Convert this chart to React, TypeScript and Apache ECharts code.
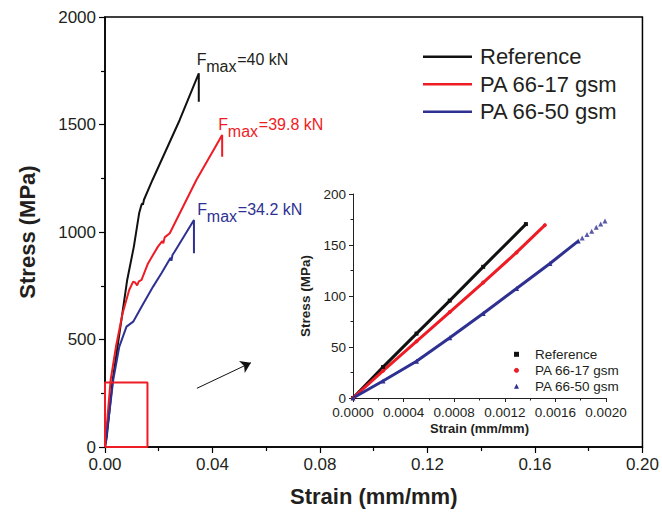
import React, { useEffect, useRef } from "react";
import * as echarts from "echarts";

const FONT = "'Liberation Sans', Arial, Helvetica, sans-serif";

// Main chart series: [strain, stress]
const referenceMain = [
  [0, 0], [0.0006, 40], [0.00285, 312], [0.00556, 544], [0.00826, 777], [0.01074, 932],
  [0.0127, 1087], [0.0136, 1128], [0.01396, 1133], [0.0141, 1126], [0.0145, 1150],
  [0.01767, 1242], [0.0216, 1350], [0.0278, 1521], [0.0349, 1738], [0.0349, 1606],
];
const pa17Main = [
  [0, 0], [0.0021, 312], [0.00407, 466], [0.00656, 622], [0.009, 730], [0.01048, 769],
  [0.0112, 765], [0.01196, 752], [0.0126, 770], [0.0136, 777], [0.016, 854], [0.0197, 932],
  [0.0213, 958], [0.0217, 948], [0.0222, 975], [0.0241, 994], [0.034, 1242], [0.0436, 1451],
  [0.0436, 1350],
];
const pa50Main = [
  [0, 0], [0.0016, 157], [0.00307, 312], [0.0053, 466], [0.008, 560], [0.0105, 583],
  [0.0136, 652], [0.0179, 746], [0.021, 808], [0.0244, 880], [0.0247, 866], [0.0251, 893],
  [0.0259, 908], [0.0331, 1056], [0.0331, 901],
];
// Zoom box (strain, stress corners) and arrow (from, to)
const zoomBox = [[0, 0], [0.0158, 0], [0.0158, 300], [0, 300], [0, 0]];
const arrowFrom = [0.0342, 273];
const arrowTo = [0.0543, 392];

// Inset series
const referenceInset = [
  [0, 0], [0.000237, 30.3], [0.000502, 63.1], [0.000765, 95.5], [0.001029, 128.6], [0.001367, 170.5],
];
const pa17Inset = [
  [0, 0], [0.000237, 26.7], [0.000502, 55.5], [0.000765, 84.3], [0.001029, 113.2], [0.001293, 142.7],
  [0.001517, 169.5],
];
const pa50InsetDense = [
  [0, 0], [0.000237, 16.7], [0.000502, 36], [0.000765, 59], [0.001029, 82.8], [0.001293, 107.3],
  [0.001557, 131.9], [0.00178, 153.8],
];
const pa50InsetSparse = [
  [0.001812, 156.8], [0.00185, 160.4], [0.001887, 163.6], [0.001923, 167.3], [0.001958, 170.5],
  [0.001992, 173.5],
];

const names = ["Reference", "PA 66-17 gsm", "PA 66-50 gsm"];
const colors = ["#111111", "#ee1c25", "#2e3192"];
const mainXTicks = { min: 0, max: 0.2, interval: 0.04 };
const mainYTicks = { min: 0, max: 2000, interval: 500 };
const insetXTicks = { min: 0, max: 0.002, interval: 0.0004 };
const insetYTicks = { min: 0, max: 200, interval: 50 };

const fmaxLabels = [
  { text: "=40 kN", color: "#231f20", fx: 196.7, fy: 59 },
  { text: "=39.8 kN", color: "#ee1c25", fx: 218.3, fy: 124 },
  { text: "=34.2 kN", color: "#2e3192", fx: 197.3, fy: 209 },
];

const SQUARE = "path://M0,0L10,0L10,10L0,10Z";

export default function App() {
  const ref = useRef<HTMLDivElement>(null);
  useEffect(() => {
    if (!ref.current) return;
    const chart = echarts.init(ref.current, null, { renderer: "svg" });

    const graphics: any[] = [];
    fmaxLabels.forEach((l) => {
      graphics.push({
        type: "text", left: l.fx, top: l.fy - 8,
        style: { text: "F", fill: l.color, font: `16px ${FONT}` },
      });
      graphics.push({
        type: "text", left: l.fx + 9.5, top: l.fy - 1,
        style: { text: "max", fill: l.color, font: `16px ${FONT}` },
      });
      graphics.push({
        type: "text", left: l.fx + 40.5, top: l.fy - 8,
        style: { text: l.text, fill: l.color, font: `16px ${FONT}` },
      });
    });

    const mainLine = (i: number, data: number[][]) => ({
      name: names[i], type: "line", xAxisIndex: 0, yAxisIndex: 0, data,
      showSymbol: false, symbol: "none", z: 3,
      lineStyle: { color: colors[i], width: 2 }, itemStyle: { color: colors[i] },
    });
    const insetLine = (i: number, data: number[][], symbol: string, size: number) => ({
      name: names[i], type: "line", xAxisIndex: 1, yAxisIndex: 1, data,
      showSymbol: true, symbol, symbolSize: size, z: 4,
      lineStyle: { color: colors[i], width: 3 }, itemStyle: { color: colors[i] },
    });

    chart.setOption({
      animation: false,
      textStyle: { fontFamily: FONT },
      grid: [
        { left: 105, top: 17, width: 540, height: 430, show: true, borderColor: "#000", borderWidth: 1.5, backgroundColor: "transparent" },
        { left: 353, top: 194, width: 253, height: 204 },
      ],
      xAxis: [
        {
          gridIndex: 0, type: "value", ...mainXTicks,
          name: "Strain (mm/mm)", nameLocation: "middle", nameGap: 38,
          nameTextStyle: { fontSize: 22, fontWeight: "bold", color: "#231f20", fontFamily: FONT },
          axisLine: { show: true, lineStyle: { color: "#000", width: 1.5 } },
          axisTick: { show: true, inside: false, length: 6, lineStyle: { color: "#000", width: 1.2 } },
          minorTick: { show: true, splitNumber: 2, length: 4, lineStyle: { color: "#000", width: 1.2 } },
          splitLine: { show: false },
          axisLabel: { fontSize: 17, color: "#231f20", margin: 9, formatter: (v: number) => v.toFixed(2), fontFamily: FONT },
        },
        {
          gridIndex: 1, type: "value", ...insetXTicks,
          name: "Strain (mm/mm)", nameLocation: "middle", nameGap: 24,
          nameTextStyle: { fontSize: 13, fontWeight: "bold", color: "#231f20", fontFamily: FONT },
          axisLine: { show: true, lineStyle: { color: "#222", width: 1 } },
          axisTick: { show: true, inside: false, length: 4, lineStyle: { color: "#222" } },
          minorTick: { show: true, splitNumber: 2, length: 2.5, lineStyle: { color: "#222" } },
          splitLine: { show: false },
          axisLabel: { fontSize: 13.5, color: "#231f20", margin: 7, formatter: (v: number) => v.toFixed(4), fontFamily: FONT },
        },
      ],
      yAxis: [
        {
          gridIndex: 0, type: "value", ...mainYTicks,
          name: "Stress (MPa)", nameLocation: "middle", nameGap: 67,
          nameTextStyle: { fontSize: 22, fontWeight: "bold", color: "#231f20", fontFamily: FONT },
          axisLine: { show: true, lineStyle: { color: "#000", width: 1.5 } },
          axisTick: { show: true, inside: false, length: 6, lineStyle: { color: "#000", width: 1.2 } },
          minorTick: { show: true, splitNumber: 2, length: 4, lineStyle: { color: "#000", width: 1.2 } },
          splitLine: { show: false },
          axisLabel: { fontSize: 17, color: "#231f20", margin: 9, formatter: (v: number) => String(v), fontFamily: FONT },
        },
        {
          gridIndex: 1, type: "value", ...insetYTicks,
          name: "Stress (MPa)", nameLocation: "middle", nameGap: 41,
          nameTextStyle: { fontSize: 13.5, fontWeight: "bold", color: "#231f20", fontFamily: FONT },
          axisLine: { show: true, lineStyle: { color: "#222", width: 1 } },
          axisTick: { show: true, inside: false, length: 4, lineStyle: { color: "#222" } },
          minorTick: { show: true, splitNumber: 2, length: 2.5, lineStyle: { color: "#222" } },
          splitLine: { show: false },
          axisLabel: { fontSize: 13.5, color: "#231f20", margin: 7, formatter: (v: number) => String(v), fontFamily: FONT },
        },
      ],
      legend: [
        {
          left: 418, top: 40.7, orient: "vertical", itemWidth: 49, itemHeight: 2.5, itemGap: 5.5,
          symbolKeepAspect: false, selectedMode: false,
          data: names.map((n, i) => ({ name: n, icon: "rect", itemStyle: { color: colors[i] } })),
          textStyle: { fontSize: 22, lineHeight: 22, color: "#231f20", fontFamily: FONT, padding: [0, 0, 0, 3] },
        },
        {
          left: 509, top: 341.3, orient: "vertical", itemWidth: 5, itemHeight: 5, itemGap: 0,
          symbolKeepAspect: true, selectedMode: false,
          data: [
            { name: names[0], icon: SQUARE, itemStyle: { color: colors[0] } },
            { name: names[1], icon: "circle", itemStyle: { color: colors[1] } },
            { name: names[2], icon: "triangle", itemStyle: { color: colors[2] } },
          ],
          textStyle: { fontSize: 13.5, lineHeight: 16, color: "#231f20", fontFamily: FONT, padding: [0, 0, 0, 11] },
        },
      ],
      graphic: graphics,
      series: [
        mainLine(0, referenceMain),
        mainLine(1, pa17Main),
        mainLine(2, pa50Main),
        {
          name: "zoom box", type: "line", xAxisIndex: 0, yAxisIndex: 0, data: zoomBox,
          symbol: "none", silent: true, z: 5,
          lineStyle: { color: "#ee1c25", width: 2 },
          markLine: {
            silent: true, symbol: ["none", "arrow"], symbolSize: 10,
            label: { show: false },
            lineStyle: { color: "#111", width: 1, type: "solid" },
            data: [[{ coord: arrowFrom }, { coord: arrowTo }]],
          },
        },
        insetLine(0, referenceInset, "rect", 4),
        insetLine(1, pa17Inset, "circle", 4),
        insetLine(2, pa50InsetDense, "triangle", 5),
        {
          name: names[2], type: "scatter", xAxisIndex: 1, yAxisIndex: 1, data: pa50InsetSparse,
          symbol: "triangle", symbolSize: 5, itemStyle: { color: colors[2] }, z: 4,
        },
      ],
    });
    return () => chart.dispose();
  }, []);
  return <div ref={ref} style={{ position: "absolute", left: 0, top: 0, width: 662, height: 520 }} />;
}
